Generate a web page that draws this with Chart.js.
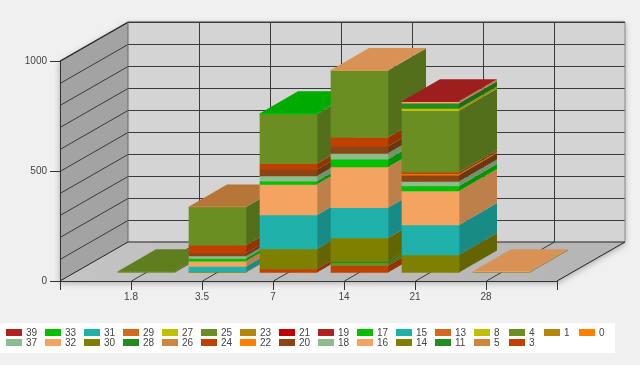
<!DOCTYPE html>
<html>
<head>
<meta charset="utf-8">
<style>
  html, body { margin: 0; padding: 0; background: #f0f0f0; }
  canvas { display: block; }
</style>
<script src="https://cdn.jsdelivr.net/npm/chart.js@4/dist/chart.umd.min.js"></script>
</head>
<body>
<canvas id="myChart" width="640" height="365"></canvas>
<script>
const categories = ['1.8', '3.5', '7', '14', '21', '28'];

// Series values per category
const s0 = [0, 0, 0, 0, 0, 0];
const s1 = [0, 0, 0, 0, 0, 0];
const s3 = [0, 0, 18, 33, 0, 0];
const s4 = [0, 0, 0, 14, 0, 0];
const s5 = [0, 0, 0, 0, 0, 0];
const s8 = [0, 0, 0, 0, 0, 0];
const s11 = [0, 0, 0, 6, 0, 0];
const s13 = [0, 0, 0, 0, 0, 0];
const s14 = [0, 6, 91, 106, 82, 0];
const s15 = [0, 24, 155, 138, 136, 0];
const s16 = [0, 24, 139, 185, 155, 0];
const s17 = [0, 12, 14, 35, 23, 0];
const s18 = [0, 12, 24, 27, 20, 0];
const s19 = [0, 0, 0, 0, 0, 0];
const s20 = [0, 12, 30, 32, 29, 0];
const s21 = [0, 0, 0, 0, 0, 0];
const s22 = [0, 0, 0, 0, 5, 0];
const s23 = [0, 0, 0, 0, 0, 0];
const s24 = [0, 36, 26, 40, 8, 0];
const s25 = [8, 174, 225, 305, 280, 5];
const s26 = [0, 2, 0, 0, 0, 0];
const s27 = [0, 0, 0, 0, 10, 0];
const s28 = [0, 0, 0, 0, 24, 0];
const s29 = [0, 0, 0, 0, 0, 0];
const s30 = [0, 0, 0, 0, 0, 0];
const s31 = [0, 0, 0, 0, 0, 0];
const s32 = [0, 0, 0, 2, 7, 3];
const s33 = [0, 0, 4, 0, 0, 0];
const s37 = [0, 0, 0, 0, 0, 0];
const s39 = [0, 0, 0, 0, 2, 0];

const seriesNames = ['0', '1', '3', '4', '5', '8', '11', '13', '14', '15', '16', '17', '18', '19', '20', '21',
    '22', '23', '24', '25', '26', '27', '28', '29', '30', '31', '32', '33', '37', '39'];
const seriesValues = [s0, s1, s3, s4, s5, s8, s11, s13, s14, s15, s16, s17, s18, s19, s20, s21,
    s22, s23, s24, s25, s26, s27, s28, s29, s30, s31, s32, s33, s37, s39];

// Colours repeat every 16 series
const palette = ['#FF8000', '#B8860B', '#C04000', '#6B8E23', '#CD853F', '#C0C000', '#228B22', '#D2691E',
    '#808000', '#20B2AA', '#F4A460', '#00C000', '#8FBC8F', '#B22222', '#8B4513', '#C00000'];

const yTicks = [0, 500, 1000];
const wallLines = [100, 200, 300, 400, 500, 600, 700, 800, 900, 1000];

const legendTop = ['39', '33', '31', '29', '27', '25', '23', '21', '19', '17', '15', '13', '8', '4', '1', '0'];
const legendBottom = ['37', '32', '30', '28', '26', '24', '22', '20', '18', '16', '14', '11', '5', '3'];

const wall = { dx: 68, dy: 39 };
const barDepth = { dx: 38, dy: 22 };
const barOffset = { x: 15.5, y: 8 };
const font = '"Liberation Sans", Arial, sans-serif';

function shade(hex, f) {
    const n = parseInt(hex.slice(1), 16);
    const c = [(n >> 16) & 255, (n >> 8) & 255, n & 255].map(v => Math.round(v * f));
    return `rgb(${c[0]},${c[1]},${c[2]})`;
}

function poly(ctx, pts, fill) {
    ctx.beginPath();
    pts.forEach((p, i) => i ? ctx.lineTo(p[0], p[1]) : ctx.moveTo(p[0], p[1]));
    ctx.closePath();
    if (fill) {
        ctx.fillStyle = fill;
        ctx.fill();
    }
}

function line(ctx, x1, y1, x2, y2) {
    ctx.beginPath();
    ctx.moveTo(x1, y1);
    ctx.lineTo(x2, y2);
    ctx.stroke();
}

// Box walls and floor behind the bars
const wallsPlugin = {
    id: 'walls',
    beforeDraw(chart) {
        const ctx = chart.ctx;
        const { left, right, top, bottom } = chart.chartArea;
        const dx = wall.dx, dy = wall.dy;
        const yScale = chart.scales.y, xScale = chart.scales.x;

        ctx.save();
        ctx.fillStyle = '#f0f0f0';
        ctx.fillRect(0, 0, chart.width, chart.height);

        // soft shadow round the box
        ctx.shadowColor = 'rgba(0,0,0,0.3)';
        ctx.shadowBlur = 6;
        ctx.shadowOffsetX = 0;
        ctx.shadowOffsetY = 2;
        poly(ctx, [[left, top], [left + dx, top - dy], [right + dx, top - dy], [right + dx, bottom - dy],
            [right, bottom], [left, bottom]], '#c8c8c8');
        ctx.shadowColor = 'transparent';

        // back wall, left wall, floor
        poly(ctx, [[left + dx, top - dy], [right + dx, top - dy], [right + dx, bottom - dy], [left + dx, bottom - dy]], '#d4d4d4');
        poly(ctx, [[left, top], [left + dx, top - dy], [left + dx, bottom - dy], [left, bottom]], '#a3a3a3');
        const g = ctx.createLinearGradient(left, bottom, right, bottom - dy);
        g.addColorStop(0, '#c4c4c4');
        g.addColorStop(1, '#b6b6b6');
        poly(ctx, [[left, bottom], [left + dx, bottom - dy], [right + dx, bottom - dy], [right, bottom]], g);

        ctx.strokeStyle = '#3a3a3a';
        ctx.lineWidth = 1;
        wallLines.forEach(v => {
            const y = Math.round(yScale.getPixelForValue(v)) + 0.5;
            line(ctx, left, y, left + dx, y - dy);
            line(ctx, left + dx, y - dy, right + dx, y - dy);
        });
        for (let i = 1; i < xScale.ticks.length - 1; i++) {
            const x = Math.round(xScale.getPixelForTick(i)) + 0.5;
            line(ctx, x + dx, bottom - dy, x + dx, top - dy);
            line(ctx, x, bottom, x + dx, bottom - dy);
        }
        ctx.strokeStyle = '#222';
        line(ctx, left, bottom, left + dx, bottom - dy);
        line(ctx, left + dx, bottom - dy, right + dx, bottom - dy);
        line(ctx, right, bottom, right + dx, bottom - dy);
        line(ctx, left, top, left + dx, top - dy);
        ctx.strokeStyle = '#666';
        line(ctx, left + dx, top - dy, left + dx, bottom - dy);
        ctx.strokeStyle = '#888';
        line(ctx, right + dx, top - dy, right + dx, bottom - dy);
        ctx.strokeStyle = '#3a3a3a';
        line(ctx, left + dx, top - dy, right + dx, top - dy);
        ctx.restore();
    }
};

// Draw the stacks left to right so a front face covers the side of its neighbour
const boxesPlugin = {
    id: 'boxes',
    beforeDatasetsDraw(chart) {
        const ctx = chart.ctx;
        const metas = chart.getSortedVisibleDatasetMetas();
        const dx = barDepth.dx, dy = barDepth.dy;
        ctx.save();
        ctx.translate(barOffset.x, -barOffset.y);
        chart.data.labels.forEach((label, i) => {
            let topBar = null, topColor = null;
            metas.forEach(meta => {
                const el = meta.data[i];
                if (!el || !chart.data.datasets[meta.index].data[i]) return;
                const { x, y, base, width } = el.getProps(['x', 'y', 'base', 'width'], true);
                const color = chart.data.datasets[meta.index].backgroundColor;
                const r = x + width / 2;
                poly(ctx, [[r, y], [r + dx, y - dy], [r + dx, base - dy], [r, base]], shade(color, 0.78));
                el.draw(ctx);
                topBar = { x, y, width };
                topColor = color;
            });
            if (topBar) {
                const l = topBar.x - topBar.width / 2, r = topBar.x + topBar.width / 2, y = topBar.y;
                poly(ctx, [[l, y], [l + dx, y - dy], [r + dx, y - dy], [r, y]], shade(topColor, 0.89));
            }
        });
        ctx.restore();
        return false;
    }
};

// Two row legend with columns lined up, white strip behind it
const legendPlugin = {
    id: 'columnLegend',
    afterDraw(chart) {
        const ctx = chart.ctx;
        ctx.save();
        ctx.fillStyle = '#ffffff';
        ctx.fillRect(0, 323, 615, 30);
        ctx.font = '10px ' + font;
        ctx.textBaseline = 'middle';
        let x = 6;
        legendTop.forEach((name, col) => {
            [name, legendBottom[col]].forEach((n, row) => {
                if (n === undefined) return;
                const y = 329 + row * 10;
                ctx.fillStyle = palette[seriesNames.indexOf(n) % palette.length];
                ctx.fillRect(x, y, 16, 7);
                ctx.fillStyle = '#444';
                ctx.fillText(n, x + 20, y + 4);
            });
            x += 31 + 4 * name.length;
        });
        ctx.restore();
    }
};

new Chart(document.getElementById('myChart').getContext('2d'), {
    type: 'bar',
    data: {
        labels: ['', ...categories, ''],
        datasets: seriesNames.map((name, i) => ({
            label: name,
            data: [null, ...seriesValues[i], null],
            backgroundColor: palette[i % palette.length],
            borderWidth: 0,
            barThickness: 57
        }))
    },
    options: {
        responsive: false,
        animation: false,
        layout: { padding: { left: 0, right: 83, top: 61, bottom: 0 } },
        plugins: {
            legend: { display: false },
            tooltip: { enabled: false }
        },
        scales: {
            x: {
                stacked: true,
                offset: false,
                afterFit: scale => { scale.height = 84; },
                border: { display: true, color: '#333', width: 1 },
                grid: { offset: false, drawOnChartArea: false, color: '#333', tickLength: 9 },
                ticks: { autoSkip: false, maxRotation: 0, color: '#444', padding: 1, font: { size: 10, family: font } }
            },
            y: {
                stacked: true,
                min: 0,
                max: 1000,
                afterFit: scale => { scale.width = 60; },
                afterBuildTicks: scale => { scale.ticks = yTicks.map(v => ({ value: v })); },
                border: { display: true, color: '#333', width: 1 },
                grid: { drawOnChartArea: false, color: '#333', tickLength: 10 },
                ticks: { callback: v => String(v), color: '#444', padding: 3, font: { size: 10, family: font } }
            }
        }
    },
    plugins: [wallsPlugin, boxesPlugin, legendPlugin]
});
</script>
</body>
</html>
